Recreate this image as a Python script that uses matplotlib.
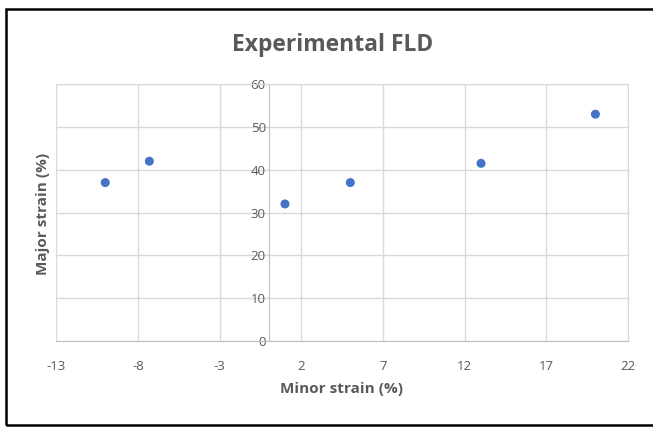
import matplotlib.pyplot as plt
from matplotlib.patches import Rectangle

# Experimental FLD points
minor_strain = [-10, -7.3, 1, 5, 13, 20]
major_strain = [37, 42, 32, 37, 41.5, 53]
x_ticks = [-13, -8, -3, 2, 7, 12, 17, 22]
y_ticks = [0, 10, 20, 30, 40, 50, 60]

plt.rcParams['font.family'] = ['Open Sans', 'DejaVu Sans']
plt.rcParams['axes.unicode_minus'] = False
text_col = '#595959'
grid_col = '#d9d9d9'

fig = plt.figure(figsize=(6.53, 4.28), dpi=100)
ax = fig.add_axes([56.2 / 653, 1 - 340.7 / 428, 571.9 / 653, 256.4 / 428])

ax.scatter(minor_strain, major_strain, s=42, color='#4472C4', zorder=3,
           edgecolors='none')

ax.set_xlim(-13, 22)
ax.set_ylim(0, 60)
ax.set_xticks(x_ticks)
ax.set_yticks(y_ticks)
ax.grid(True, color=grid_col, linewidth=1.0)
ax.set_axisbelow(True)

# y axis crosses at x = 0, like the Excel chart
ax.spines['left'].set_position(('data', 0))
ax.spines['left'].set_color('#bfbfbf')
ax.spines['bottom'].set_color('#bfbfbf')
ax.spines['top'].set_color(grid_col)
ax.spines['right'].set_color(grid_col)
ax.tick_params(axis='both', length=0, labelsize=9.5, labelcolor=text_col)
ax.tick_params(axis='x', pad=14)
ax.tick_params(axis='y', pad=2)

fig.text(0.51, 1 - 45 / 428, 'Experimental FLD', ha='center', va='center',
         fontsize=16.5, fontweight='bold', color=text_col)
fig.text(341 / 653, 1 - 389 / 428, 'Minor strain (%)', ha='center', va='center',
         fontsize=11, fontweight='bold', color=text_col)
fig.text(43 / 653, 1 - 214 / 428, 'Major strain (%)', ha='center', va='center',
         rotation=90, fontsize=11, fontweight='bold', color=text_col)

# outer chart frame
fig.patches.append(Rectangle((5.5 / 653, 3 / 428), 650 / 653, 416 / 428,
                             transform=fig.transFigure, fill=False,
                             edgecolor='black', linewidth=1.8))

plt.savefig('out.png', dpi=100)
